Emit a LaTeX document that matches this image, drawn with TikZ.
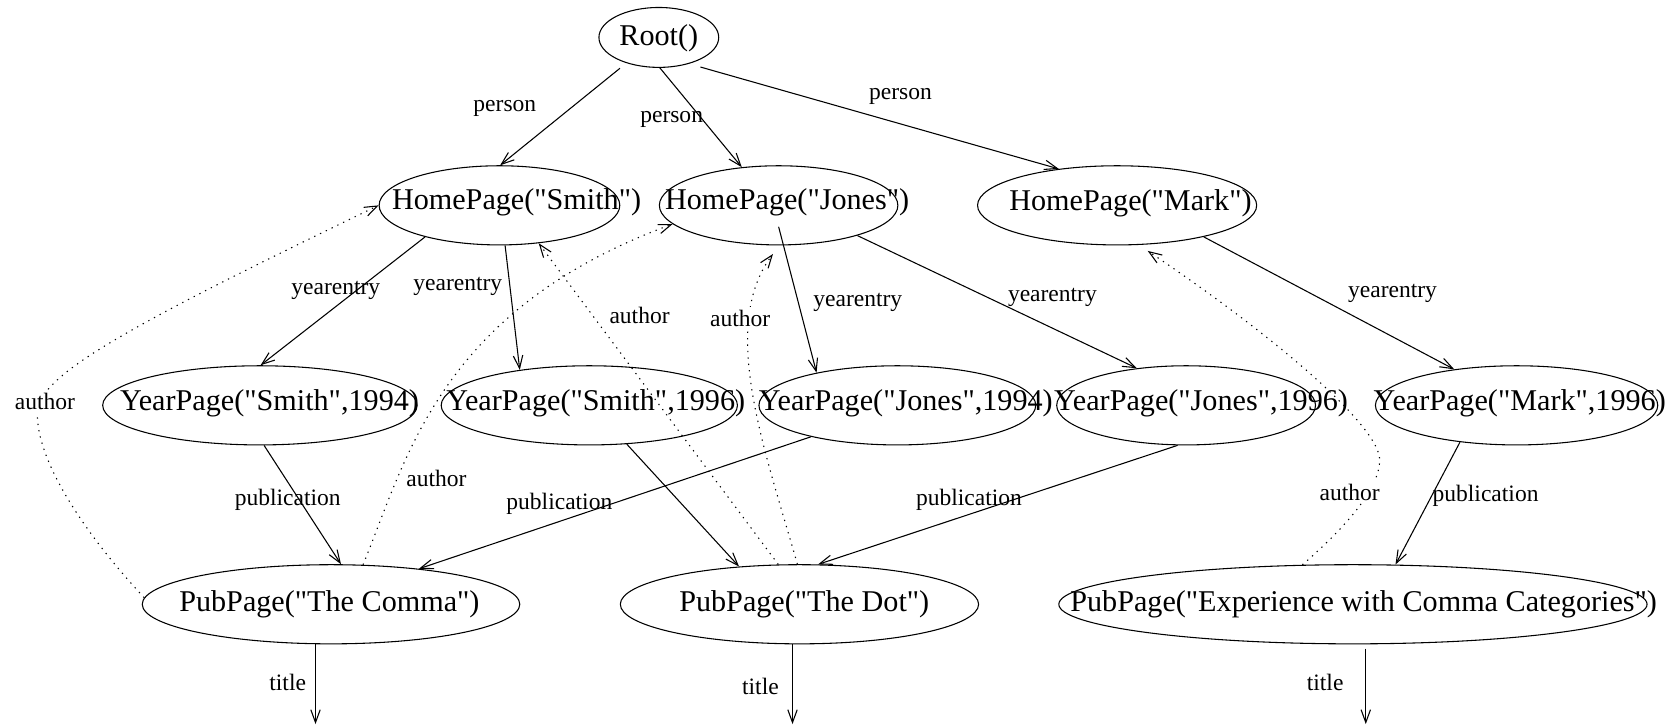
\documentclass[tikz,border=0pt]{standalone}
\usepackage{fontspec}
\setmainfont{Liberation Serif}[Ligatures=TeXOff]
\usetikzlibrary{shapes.geometric,arrows.meta,calc}
\begin{document}
\begin{tikzpicture}[x=0.5pt,y=-0.5pt,
  ebox/.style={ellipse,draw,line width=0.5pt,inner sep=0pt,minimum height=37pt},
  ntext/.style={font=\fontsize{14.1}{16}\selectfont,inner sep=0pt},
  lbl/.style={font=\fontsize{11}{13}\selectfont,inner sep=1pt},
  albl/.style={lbl,fill=white,inner sep=1.5pt},
  edge/.style={line width=0.5pt,-{Straight Barb[length=6pt,width=4.4pt]}},
  ref/.style={edge,dash pattern=on 0.6pt off 2.4pt}]
\useasboundingbox (0,0) rectangle (1568,679);

% objects
\node[ebox,minimum width=56pt,minimum height=28pt] (root) at (616,35) {};
\node[ntext] (root-t) at (616,36) {Root()};

\node[ebox,minimum width=112.5pt] (hps) at (467,192) {};
\node[ntext] (hps-t) at (483,189) {HomePage("Smith")};
\node[ebox,minimum width=111.5pt] (hpj) at (728,192) {};
\node[ntext] (hpj-t) at (736,189) {HomePage("Jones")};
\node[ebox,minimum width=130.5pt] (hpm) at (1044.5,192) {};
\node[ntext] (hpm-t) at (1057,190) {HomePage("Mark")};

\node[ebox,minimum width=147pt] (yps94) at (243,379) {};
\node[ntext] (yps94-t) at (252,377) {YearPage("Smith",1994)};
\node[ebox,minimum width=138.5pt] (yps96) at (551,379) {};
\node[ntext] (yps96-t) at (557,377) {YearPage("Smith",1996)};
\node[ebox,minimum width=129.4pt] (ypj94) at (839,379) {};
\node[ntext] (ypj94-t) at (847,377) {YearPage("Jones",1994)};
\node[ebox,minimum width=121pt] (ypj96) at (1109,379) {};
\node[ntext] (ypj96-t) at (1123,377) {YearPage("Jones",1996)};
\node[ebox,minimum width=132pt] (ypm96) at (1418,379) {};
\node[ntext] (ypm96-t) at (1421,377) {YearPage("Mark",1996)};

\node[ebox,minimum width=176.5pt] (ppc) at (309.5,565) {};
\node[ntext] (ppc-t) at (308,565) {PubPage("The Comma")};
\node[ebox,minimum width=167.5pt] (ppd) at (747.5,565) {};
\node[ntext] (ppd-t) at (752,565) {PubPage("The Dot")};
\node[ebox,minimum width=275pt] (ppe) at (1265,565) {};
\node[ntext] (ppe-t) at (1275,565) {PubPage("Experience with Comma Categories")};

% free ends of the title edges
\coordinate (tc) at (295,677);
\coordinate (td) at (741,677);
\coordinate (te) at (1277,677);

% solid edges
\draw[edge] ([yshift=-3.5pt]root.211) -- (hps.89);
\draw[edge] (root.272) -- (hpj.134);
\draw[edge] ([yshift=-3.5pt]root.332) -- (hpm.148);
\draw[edge] (hps.203) -- (yps94.89);
\draw[edge] (hps.278) -- (yps96.153);
\draw[edge] ([yshift=-10pt]hpj.center) -- (ypj94.158);
\draw[edge] (hpj.339) -- (ypj96.143);
\draw[edge] (hpm.340) -- (ypm96.150);
\draw[edge] (yps94.276) -- (ppc.76);
\draw[edge] (yps96.314) -- (ppd.148);
\draw[edge] (ypj94.200) -- (ppc.22);
\draw[edge] (ypj96.258) -- (ppd.65);
\draw[edge] (ypm96.213) -- (ppe.43);
\draw[edge] (tc |- ppc.south) -- (tc);
\draw[edge] (td |- ppd.south) -- (td);
\draw[edge] ($(te |- ppe.south)+(0,4)$) -- (te);

% dotted author references
\draw[ref] (ppc.178) .. controls (80,500) and (33,430) .. (35,385)
  .. controls (37,350) and (120,305) .. (hps.180);
\draw[ref] (ppc.51) .. controls (380,430) and (410,290) .. (hpj.190);
\draw[ref] (ppd.118) -- (hps.316);
\draw[ref] (ppd.93) .. controls (715,420) and (672,305) .. ([yshift=-4pt]hpj.262);
\draw[ref] (ppe.142) .. controls (1250,500) and (1290,460) .. (1290,430)
  .. controls (1290,400) and (1200,320) .. ([yshift=-3pt]hpm.308);

% edge labels
\node[lbl] (l-p1) at (472,101) {person};
\node[lbl] (l-p2) at (628,112) {person};
\node[lbl] (l-p3) at (842,90) {person};
\node[lbl] (l-y1) at (314,272) {yearentry};
\node[lbl] (l-y2) at (428,268) {yearentry};
\node[lbl] (l-y3) at (802,283) {yearentry};
\node[lbl] (l-y4) at (984,278) {yearentry};
\node[lbl] (l-y5) at (1302,274) {yearentry};
\node[lbl] (l-u1) at (269,467) {publication};
\node[lbl] (l-u2) at (523,471) {publication};
\node[lbl] (l-u3) at (906,467) {publication};
\node[lbl] (l-u4) at (1389,464) {publication};
\node[albl] (l-a1) at (42,375) {author};
\node[albl] (l-a2) at (408,447) {author};
\node[albl] (l-a3) at (598,295) {author};
\node[albl] (l-a4) at (692,298) {author};
\node[albl] (l-a5) at (1262,460) {author};
\node[lbl] (l-t1) at (269,638) {title};
\node[lbl] (l-t2) at (711,642) {title};
\node[lbl] (l-t3) at (1239,638) {title};
\end{tikzpicture}
\end{document}
